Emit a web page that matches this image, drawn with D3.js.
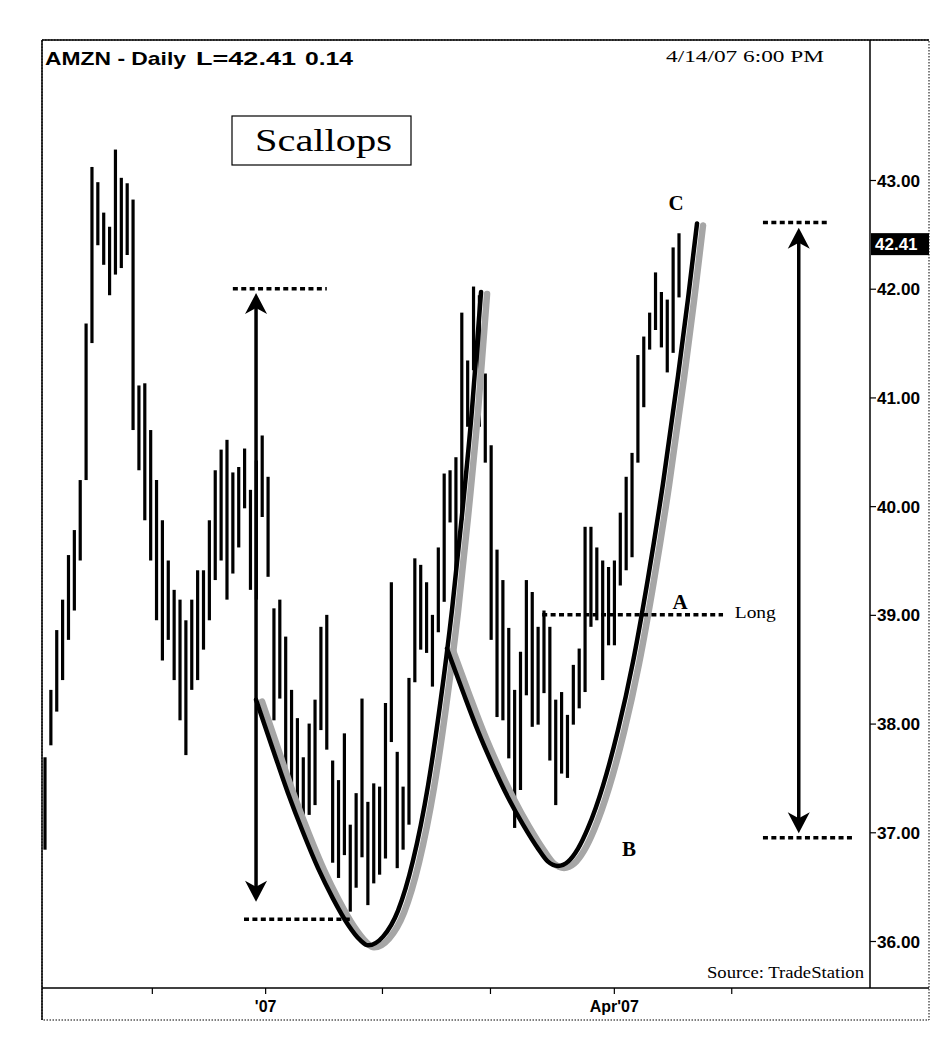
<!DOCTYPE html>
<html><head><meta charset="utf-8">
<script src="https://cdn.jsdelivr.net/npm/d3@7"></script>
<style>body{margin:0;background:#fff;}svg{display:block;}</style>
</head><body>
<svg id="chart" width="951" height="1050"></svg>
<script>
// ---- data (prices) ----
const highs = [37.69,38.31,38.86,39.14,39.55,39.78,40.24,41.68,43.12,42.98,42.70,42.57,43.28,43.02,42.97,42.82,41.11,41.13,40.70,40.24,
39.87,39.50,39.23,39.14,38.95,39.14,39.41,39.41,39.87,40.33,40.52,40.61,40.31,40.36,40.53,40.15,40.42,40.65,40.27,39.06,
39.14,38.80,38.31,38.05,37.69,38.00,38.22,38.89,39.00,37.66,37.48,37.91,37.07,37.36,38.23,37.28,37.45,37.42,38.19,39.30,
37.74,37.42,38.42,39.52,39.46,39.30,39.00,39.62,40.30,40.33,40.45,41.78,41.34,42.02,41.94,41.22,40.56,39.60,39.32,38.88,
38.31,38.66,39.32,39.21,38.89,39.04,38.89,38.22,38.29,38.08,38.54,38.69,39.81,39.81,39.62,39.50,39.44,39.50,39.94,40.27,
40.49,41.39,41.56,41.78,42.15,41.97,41.90,42.38,42.51];
const lows = [36.84,37.80,38.11,38.40,38.77,39.04,39.50,40.24,41.50,42.40,42.22,41.94,42.13,42.19,42.31,40.70,40.33,39.87,39.50,38.95,
38.58,38.77,38.40,38.03,37.71,38.31,38.40,38.68,38.95,39.32,39.50,39.14,39.38,39.62,39.98,39.23,39.14,39.90,39.35,38.03,
38.23,37.54,37.36,37.27,37.14,37.16,37.25,37.94,37.76,36.72,36.58,36.79,36.27,36.49,36.77,36.33,36.53,36.61,36.76,37.83,
36.67,36.84,37.07,38.38,38.68,38.65,38.34,38.84,39.12,39.85,39.37,39.87,40.73,41.25,40.73,40.40,38.77,38.06,38.03,37.68,
37.04,37.39,38.26,37.97,37.99,38.28,37.66,37.25,37.54,37.50,37.99,38.14,38.29,38.89,38.95,38.40,38.72,38.72,39.27,39.41,
39.53,40.40,40.91,41.44,41.62,41.46,41.23,41.41,41.92];
const priceTicks = [36, 37, 38, 39, 40, 41, 42, 43];
const monthTickPos = [18.2, 37.5, 57.4, 75.8, 96.9, 116.9];
const monthTickLabels = ["", "'07", "", "", "Apr'07", ""];
const lastPrice = 42.41;
const titleParts = ["AMZN - Daily", "L=42.41", "0.14"];
const dateText = "4/14/07 6:00 PM";
// scallop curves, [bar position, price]
const scallop1 = [[35.95,38.22],[38.84,37.76],[41.40,37.36],[43.95,37.00],[46.51,36.67],[49.06,36.39],[51.62,36.15],[53.66,36.01],
[55.03,35.96],[57.58,36.04],[60.14,36.28],[62.69,36.74],[65.25,37.43],[67.29,38.17],[69.34,39.05],[71.04,39.92],[72.74,40.89],[74.28,41.97]];
const scallop2 = [[68.48,38.69],[71.21,38.29],[73.76,37.93],[76.32,37.61],[78.88,37.32],[81.43,37.07],[83.99,36.85],[85.69,36.73],
[87.39,36.69],[89.10,36.73],[90.80,36.85],[92.50,37.04],[95.06,37.43],[97.61,37.94],[100.17,38.57],[102.73,39.34],[105.28,40.21],
[107.84,41.20],[109.54,41.91],[111.07,42.60]];

// ---- layout ----
const svg = d3.select("#chart");
const L = 42, T = 40, R = 870, B = 988, OUTR = 929, OUTB = 1020;
const x = d3.scaleLinear().domain([0, 108]).range([45, 679]);
const y = d3.scaleLinear().domain([36, 43]).range([941, 180]);
const sans = "Liberation Sans, Arial, sans-serif";
const serif = "Liberation Serif, Times New Roman, serif";

// frame
svg.append("rect").attr("x", L).attr("y", T).attr("width", OUTR - L).attr("height", OUTB - T)
  .attr("fill", "none").attr("stroke", "#000").attr("stroke-width", 1).attr("stroke-dasharray", "1.5,1.5");
svg.append("line").attr("x1", L).attr("x2", OUTR).attr("y1", T).attr("y2", T).attr("stroke", "#000").attr("stroke-width", 1.5);
svg.append("line").attr("x1", L).attr("x2", L).attr("y1", T).attr("y2", OUTB).attr("stroke", "#000").attr("stroke-width", 1.5);

// y axis on right
const yAxis = d3.axisRight(y).tickValues(priceTicks).tickSize(6).tickPadding(1).tickFormat(d3.format(".2f"));
const gy = svg.append("g").attr("transform", `translate(${R},0)`).call(yAxis);
gy.select(".domain").attr("d", `M0,${T}V${B}`).attr("stroke-width", 1.5);
gy.selectAll("line").attr("stroke-width", 1.2);
gy.selectAll("text").attr("font-family", sans).attr("font-weight", "bold")
  .attr("font-size", 17).attr("fill", "#000").attr("dy", "0.36em").attr("textLength", 43).attr("lengthAdjust", "spacingAndGlyphs");

// last price box
svg.append("rect").attr("x", R + 1).attr("y", y(lastPrice) - 11).attr("width", OUTR - R - 1).attr("height", 22).attr("fill", "#000");
svg.append("text").attr("x", R + 5).attr("y", y(lastPrice) + 6).text(lastPrice.toFixed(2))
  .attr("font-family", sans).attr("font-weight", "bold").attr("font-size", 17).attr("fill", "#fff");

// x axis
svg.append("line").attr("x1", L).attr("x2", OUTR).attr("y1", B).attr("y2", B).attr("stroke", "#000").attr("stroke-width", 1.5);
const xAxis = d3.axisBottom(x).tickValues(monthTickPos).tickSize(6).tickPadding(7)
  .tickFormat((d, i) => monthTickLabels[i]);
const gx = svg.append("g").attr("transform", `translate(0,${B})`).call(xAxis);
gx.select(".domain").remove();
gx.selectAll("line").attr("stroke-width", 1.2);
gx.selectAll("text").attr("font-family", "Liberation Sans Narrow, Arial Narrow, Liberation Sans, sans-serif")
  .attr("font-weight", "bold").attr("font-size", 16).attr("fill", "#000");

// bars
svg.append("g").selectAll("line").data(highs).join("line")
  .attr("x1", (d, i) => x(i)).attr("x2", (d, i) => x(i))
  .attr("y1", d => y(d)).attr("y2", (d, i) => y(lows[i]))
  .attr("stroke", "#000").attr("stroke-width", 3.2);

// scallop curves with grey shadow
const line = d3.line().x(d => x(d[0])).y(d => y(d[1])).curve(d3.curveMonotoneX);
[scallop1, scallop2].forEach(c => {
  svg.append("path").attr("d", line(c)).attr("transform", "translate(6,2)")
    .attr("fill", "none").attr("stroke", "#a6a6a6").attr("stroke-width", 6.5).attr("stroke-linecap", "round");
  svg.append("path").attr("d", line(c)).attr("fill", "none").attr("stroke", "#000")
    .attr("stroke-width", 4.5).attr("stroke-linecap", "round");
});

// dotted level lines
const dotted = (i0, i1, p) => svg.append("line").attr("x1", x(i0)).attr("x2", x(i1)).attr("y1", y(p)).attr("y2", y(p))
  .attr("stroke", "#000").attr("stroke-width", 3.5).attr("stroke-dasharray", "5,3.4");
dotted(32, 48, 42.0);
dotted(33.9, 52.3, 36.2);
dotted(122.3, 133.4, 42.61);
dotted(122.3, 138, 36.95);
dotted(84.7, 115.5, 39.0);

// double arrows
function arrow(i, pTop, pBot) {
  const ax = x(i), y1 = y(pTop), y2 = y(pBot);
  svg.append("line").attr("x1", ax).attr("x2", ax).attr("y1", y1 + 10).attr("y2", y2 - 10)
    .attr("stroke", "#000").attr("stroke-width", 3.5);
  svg.append("path").attr("d", `M${ax},${y1} L${ax + 11},${y1 + 21} L${ax},${y1 + 15} L${ax - 11},${y1 + 21}Z`).attr("fill", "#000");
  svg.append("path").attr("d", `M${ax},${y2} L${ax + 11},${y2 - 21} L${ax},${y2 - 15} L${ax - 11},${y2 - 21}Z`).attr("fill", "#000");
}
arrow(35.95, 41.96, 36.36);
arrow(128.4, 42.56, 36.99);

// letters
const letter = (t, i, p) => svg.append("text").attr("x", x(i)).attr("y", y(p)).attr("text-anchor", "middle")
  .attr("font-family", serif).attr("font-weight", "bold").attr("font-size", 21).text(t);
letter("A", 108.2, 39.05);
letter("B", 99.5, 36.78);
letter("C", 107.5, 42.72);
svg.append("text").attr("x", x(117.5)).attr("y", y(38.97)).attr("font-family", serif).attr("font-size", 16)
  .attr("textLength", 41).attr("lengthAdjust", "spacingAndGlyphs").text("Long");

// title & date
const titleX = [[45, 141], [196, 100], [305, 48]];
titleParts.forEach((t, k) => svg.append("text").attr("x", titleX[k][0]).attr("y", 65).attr("font-family", sans)
  .attr("font-size", 18.5).attr("font-weight", "bold").attr("textLength", titleX[k][1])
  .attr("lengthAdjust", "spacingAndGlyphs").text(t));
svg.append("text").attr("x", 666).attr("y", 62).attr("font-family", serif).attr("font-size", 17)
  .attr("textLength", 158).attr("lengthAdjust", "spacingAndGlyphs").text(dateText);

// Scallops box
svg.append("rect").attr("x", 232).attr("y", 116).attr("width", 179).attr("height", 49)
  .attr("fill", "#fff").attr("stroke", "#000").attr("stroke-width", 1.2);
svg.append("text").attr("x", 255).attr("y", 151).attr("font-family", serif)
  .attr("font-size", 31).attr("textLength", 137).attr("lengthAdjust", "spacingAndGlyphs").text("Scallops");

// source
svg.append("text").attr("x", 707).attr("y", 978).attr("font-family", serif)
  .attr("font-size", 16).attr("textLength", 157).attr("lengthAdjust", "spacingAndGlyphs").text("Source: TradeStation");
</script>
</body></html>
